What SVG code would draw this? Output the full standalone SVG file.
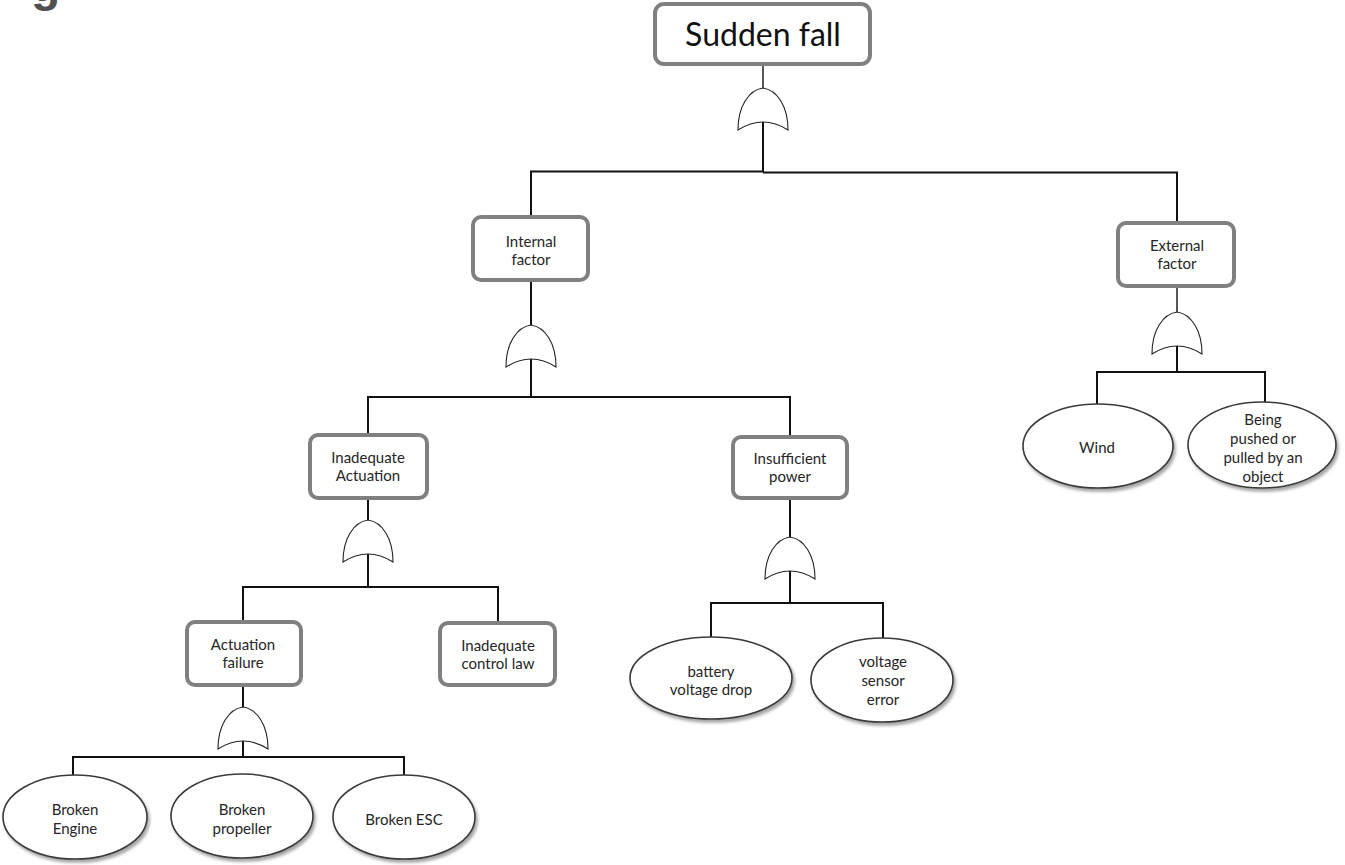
<svg xmlns="http://www.w3.org/2000/svg" xmlns:xlink="http://www.w3.org/1999/xlink" width="1345" height="865" viewBox="0 0 1345 865">
  <style>
    .box { fill: #ffffff; stroke: #808080; stroke-width: 4; }
    .leaf { fill: #ffffff; stroke: #3a3a3a; stroke-width: 1.6; filter: url(#shadow); }
    .gate { fill: #ffffff; stroke: #222222; stroke-width: 1.1; }
    .wire { fill: none; stroke: #111111; stroke-width: 2; }
    .wire-thin { fill: none; stroke: #111111; stroke-width: 1.4; }
    .lbl { font-family: Lato, "Open Sans", "Liberation Sans", sans-serif; font-size: 15px; fill: #262626; text-anchor: middle; }
    .title { font-family: Lato, "Open Sans", "Liberation Sans", sans-serif; font-size: 32px; fill: #111111; text-anchor: middle; }
  </style>
  <defs>
    <filter id="shadow" x="-10%" y="-10%" width="125%" height="130%">
      <feDropShadow dx="2" dy="3" stdDeviation="1.8" flood-color="#000000" flood-opacity="0.35"/>
    </filter>
    <!-- OR gate, origin at the apex -->
    <path id="orGate" class="gate" d="M0,0 C-14,2 -25,18 -25,42 Q0,26 25,42 C25,18 14,2 0,0 Z"/>
  </defs>

  <rect width="1345" height="865" fill="#ffffff"/>

  <!-- heading letter running off the top-left corner -->
  <text x="31" y="1" font-family="Liberation Sans, sans-serif" font-weight="bold" font-size="48" fill="#505050">g</text>

  <!-- connectors -->
  <g id="connectors">
    <path class="wire-thin" d="M763,65 V88"/>
    <path class="wire" d="M763,122 V172"/>
    <path class="wire" d="M531,217 V171.5 H763"/>
    <path class="wire" d="M763,172.5 H1177 V223"/>

    <path class="wire" d="M531,280 V325"/>
    <path class="wire" d="M531,359 V397"/>
    <path class="wire" d="M368,435 V397 H790 V437"/>

    <path class="wire" d="M368,498 V520"/>
    <path class="wire" d="M368,554 V587"/>
    <path class="wire" d="M243,622 V587 H498 V623"/>

    <path class="wire" d="M243,685 V707"/>
    <path class="wire" d="M243,741 V757"/>
    <path class="wire" d="M73,775 V757 H404 V776"/>

    <path class="wire" d="M790,498 V537"/>
    <path class="wire" d="M790,571 V603"/>
    <path class="wire" d="M711,637 V603 H883 V638"/>

    <path class="wire-thin" d="M1177,286 V312"/>
    <path class="wire" d="M1177,346 V372"/>
    <path class="wire" d="M1097,404 V372 H1265 V402"/>
  </g>

  <!-- gates -->
  <g id="gates">
    <use xlink:href="#orGate" x="763" y="88"/>
    <use xlink:href="#orGate" x="531" y="325"/>
    <use xlink:href="#orGate" x="1177" y="312"/>
    <use xlink:href="#orGate" x="368" y="520"/>
    <use xlink:href="#orGate" x="790" y="537"/>
    <use xlink:href="#orGate" x="243" y="707"/>
  </g>

  <!-- events -->
  <g id="sudden-fall">
    <rect class="box" x="655" y="4" width="215" height="60" rx="9"/>
    <text class="title" x="763" y="46">Sudden fall</text>
  </g>

  <g id="internal-factor">
    <rect class="box" x="473" y="217" width="115" height="63" rx="8"/>
    <text class="lbl" x="531" y="247">Internal</text>
    <text class="lbl" x="531" y="265">factor</text>
  </g>

  <g id="external-factor">
    <rect class="box" x="1118" y="223" width="116" height="63" rx="8"/>
    <text class="lbl" x="1177" y="251">External</text>
    <text class="lbl" x="1177" y="269">factor</text>
  </g>

  <g id="inadequate-actuation">
    <rect class="box" x="310" y="435" width="117" height="63" rx="8"/>
    <text class="lbl" x="368" y="463">Inadequate</text>
    <text class="lbl" x="368" y="481">Actuation</text>
  </g>

  <g id="insufficient-power">
    <rect class="box" x="733" y="437" width="114" height="61" rx="8"/>
    <text class="lbl" x="790" y="464">Insufficient</text>
    <text class="lbl" x="790" y="482">power</text>
  </g>

  <g id="actuation-failure">
    <rect class="box" x="187" y="622" width="114" height="63" rx="8"/>
    <text class="lbl" x="243" y="650">Actuation</text>
    <text class="lbl" x="243" y="668">failure</text>
  </g>

  <g id="inadequate-control-law">
    <rect class="box" x="440" y="623" width="115" height="62" rx="8"/>
    <text class="lbl" x="498" y="651">Inadequate</text>
    <text class="lbl" x="498" y="669">control law</text>
  </g>

  <!-- basic events -->
  <g id="broken-engine">
    <ellipse class="leaf" cx="75" cy="817" rx="72" ry="42"/>
    <text class="lbl" x="75" y="815">Broken</text>
    <text class="lbl" x="75" y="834">Engine</text>
  </g>

  <g id="broken-propeller">
    <ellipse class="leaf" cx="242" cy="816" rx="71" ry="42"/>
    <text class="lbl" x="242" y="815">Broken</text>
    <text class="lbl" x="242" y="834">propeller</text>
  </g>

  <g id="broken-esc">
    <ellipse class="leaf" cx="404" cy="817" rx="71" ry="42"/>
    <text class="lbl" x="404" y="825">Broken ESC</text>
  </g>

  <g id="battery-voltage-drop">
    <ellipse class="leaf" cx="711" cy="678" rx="81" ry="41"/>
    <text class="lbl" x="711" y="677">battery</text>
    <text class="lbl" x="711" y="695">voltage drop</text>
  </g>

  <g id="voltage-sensor-error">
    <ellipse class="leaf" cx="882" cy="680" rx="71" ry="42"/>
    <text class="lbl" x="883" y="667">voltage</text>
    <text class="lbl" x="883" y="686">sensor</text>
    <text class="lbl" x="883" y="705">error</text>
  </g>

  <g id="wind">
    <ellipse class="leaf" cx="1098" cy="446" rx="75" ry="42"/>
    <text class="lbl" x="1097" y="453">Wind</text>
  </g>

  <g id="pushed-or-pulled">
    <ellipse class="leaf" cx="1262" cy="445" rx="74" ry="43"/>
    <text class="lbl" x="1263" y="425">Being</text>
    <text class="lbl" x="1263" y="444">pushed or</text>
    <text class="lbl" x="1263" y="463">pulled by an</text>
    <text class="lbl" x="1263" y="482">object</text>
  </g>
</svg>
